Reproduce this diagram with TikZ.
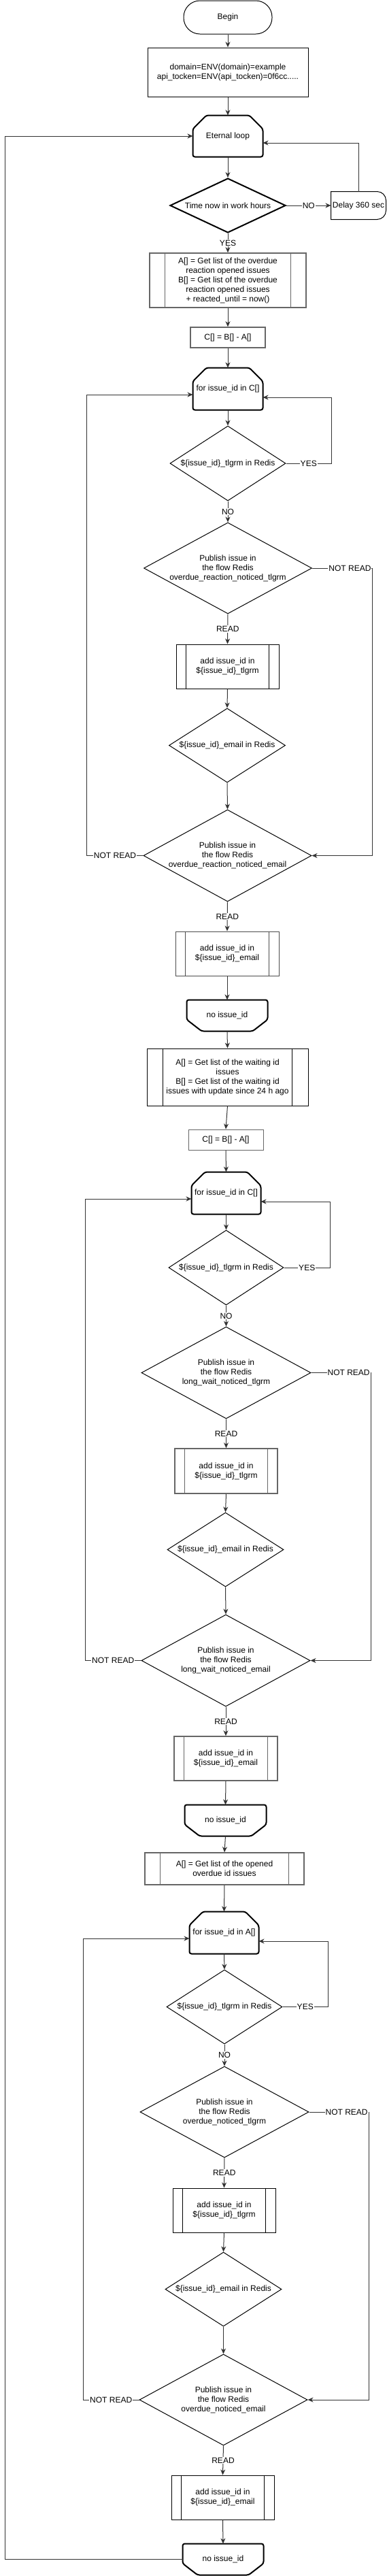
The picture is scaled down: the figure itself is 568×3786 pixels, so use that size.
\documentclass[tikz,border=0pt]{standalone}
\usepackage{fontspec}
\setmainfont{Liberation Sans}
\usetikzlibrary{shapes.geometric,arrows.meta,calc}
\newcommand\drawLoopTop[1]{\draw[loopline] ([xshift=20pt]#1.north west) -- ([xshift=-20pt]#1.north east) -- ([yshift=-20pt]#1.north east) -- (#1.south east) -- (#1.south west) -- ([yshift=-20pt]#1.north west) -- cycle;}
\newcommand\drawLoopBot[1]{\draw[loopline] (#1.north west) -- (#1.north east) -- ([yshift=17pt]#1.south east) -- ([xshift=-22pt]#1.south east) -- ([xshift=22pt]#1.south west) -- ([yshift=17pt]#1.south west) -- cycle;}
\newcommand\drawBars[3][]{\draw[line width=1pt,#1] ([xshift=#3]#2.north west) -- ([xshift=#3]#2.south west) ([xshift=-#3]#2.north east) -- ([xshift=-#3]#2.south east);}
\begin{document}
\begin{tikzpicture}[x=1pt,y=-1pt,
  font=\fontsize{12}{14}\selectfont,
  nbase/.style={inner sep=0pt, align=center, line width=1pt},
  termbox/.style={nbase, draw, rectangle, rounded corners=24pt},
  procbox/.style={nbase, draw, rectangle},
  ppbox/.style={nbase, draw, rectangle},
  loopbox/.style={nbase, rectangle},
  decbox/.style={nbase, draw, diamond, aspect=1.6},
  loopline/.style={line width=2pt, rounded corners=3pt, line join=round},
  conn/.style={line width=1pt, draw=black!80, -{Stealth[length=8pt,width=7pt,inset=2.5pt]}},
  elabel/.style={fill=white, inner sep=1pt},
]
\fill[white] (0,0) rectangle (568,3786);
\useasboundingbox (0,0) rectangle (568,3786);

% routing coordinates
\coordinate (xO) at (7,0);
\coordinate (xY1) at (487,0);
\coordinate (xR1) at (547,0);
\coordinate (xL1) at (127.5,0);
\coordinate (xY2) at (485,0);
\coordinate (xR2) at (545,0);
\coordinate (xL2) at (125,0);
\coordinate (xY3) at (482,0);
\coordinate (xR3) at (542,0);
\coordinate (xL3) at (122,0);

% ---------- section 1 ----------
\node[termbox, minimum width=130pt, minimum height=49pt] (begin) at (335,25.5) {Begin};
\node[procbox, minimum width=236pt, minimum height=72pt] (domain) at (335,106) {domain=ENV(domain)=example\\api\_tocken=ENV(api\_tocken)=0f6cc.....};
\node[loopbox, minimum width=102pt, minimum height=60pt] (eloop) at (335,200) {Eternal loop};
\node[decbox, line width=2pt, minimum width=170pt, minimum height=80pt, aspect=2.1] (time) at (335,302) {Time now in work hours};
\node[nbase, rectangle, minimum width=80pt, minimum height=40pt] (delay) at (527,302) {Delay 360 sec};
\node[ppbox, draw=black!60, line width=1.5pt, minimum width=230pt, minimum height=80pt] (p1) at (335,412) {A[] = Get list of the overdue\\reaction opened issues\\B[] = Get list of the overdue\\reaction opened issues\\+ reacted\_until = now()};
\node[procbox, draw=black!60, line width=1.5pt, minimum width=110pt, minimum height=30pt] (c1) at (335,496) {C[] = B[] - A[]};
\node[loopbox, minimum width=102pt, minimum height=61pt] (for1) at (335,571.5) {for issue\_id in C[]};
\node[decbox, minimum width=170pt, minimum height=110pt] (d1) at (335,681) {\$\{issue\_id\}\_tlgrm in Redis};
\node[decbox, minimum width=247pt, minimum height=134pt, aspect=1.84] (p2) at (335,835) {Publish issue in\\the flow Redis\\overdue\_reaction\_noticed\_tlgrm};
\node[ppbox, minimum width=151pt, minimum height=65pt] (a1) at (334.5,979.5) {add issue\_id in\\\$\{issue\_id\}\_tlgrm};
\node[decbox, minimum width=171pt, minimum height=109pt] (e1) at (334,1095.5) {\$\{issue\_id\}\_email in Redis};
\node[decbox, minimum width=247pt, minimum height=135pt, aspect=1.84] (p3) at (334.5,1257.5) {Publish issue in\\the flow Redis\\overdue\_reaction\_noticed\_email};
\node[ppbox, draw=black!70, minimum width=152pt, minimum height=65pt] (a2) at (334,1401.5) {add issue\_id in\\\$\{issue\_id\}\_email};
\node[loopbox, minimum width=118pt, minimum height=45pt] (n1) at (334,1492.5) {no issue\_id};

% ---------- section 2 ----------
\node[ppbox, minimum width=237pt, minimum height=84pt] (q1) at (334.5,1583) {A[] = Get list of the waiting id\\issues\\B[] = Get list of the waiting id\\issues with update since 24 h ago};
\node[procbox, draw=black!60, minimum width=110pt, minimum height=30pt] (c2) at (332,1675) {C[] = B[] - A[]};
\node[loopbox, minimum width=101pt, minimum height=61pt] (for2) at (332.5,1753.5) {for issue\_id in C[]};
\node[decbox, minimum width=169pt, minimum height=110pt] (d2) at (332.5,1863) {\$\{issue\_id\}\_tlgrm in Redis};
\node[decbox, minimum width=249pt, minimum height=135pt, aspect=1.84] (p4) at (332.5,2017.5) {Publish issue in\\the flow Redis\\long\_wait\_noticed\_tlgrm};
\node[ppbox, draw=black!60, line width=1.5pt, minimum width=151pt, minimum height=66pt] (a3) at (332.5,2162) {add issue\_id in\\\$\{issue\_id\}\_tlgrm};
\node[decbox, minimum width=171pt, minimum height=109pt] (e2) at (331.5,2277.5) {\$\{issue\_id\}\_email in Redis};
\node[decbox, minimum width=248pt, minimum height=135pt, aspect=1.84] (p5) at (332,2440.5) {Publish issue in\\the flow Redis\\long\_wait\_noticed\_email};
\node[ppbox, draw=black!60, line width=1.5pt, minimum width=152pt, minimum height=65pt] (a4) at (332,2584.5) {add issue\_id in\\\$\{issue\_id\}\_email};
\node[loopbox, minimum width=119pt, minimum height=45pt] (n2) at (331.5,2675.5) {no issue\_id};

% ---------- section 3 ----------
\node[ppbox, draw=black!60, line width=1.5pt, minimum width=234pt, minimum height=47pt] (q2) at (330,2746.5) {A[] = Get list of the opened\\overdue id issues};
\node[loopbox, minimum width=101pt, minimum height=61pt] (for3) at (329.5,2840.5) {for issue\_id in A[]};
\node[decbox, minimum width=170pt, minimum height=109pt] (d3) at (330,2949.5) {\$\{issue\_id\}\_tlgrm in Redis};
\node[decbox, minimum width=248pt, minimum height=134pt, aspect=1.84] (p6) at (330,3104) {Publish issue in\\the flow Redis\\overdue\_noticed\_tlgrm};
\node[ppbox, minimum width=151pt, minimum height=65pt] (a5) at (329.5,3248.5) {add issue\_id in\\\$\{issue\_id\}\_tlgrm};
\node[decbox, minimum width=171pt, minimum height=109pt] (e3) at (328.5,3364.5) {\$\{issue\_id\}\_email in Redis};
\node[decbox, minimum width=247pt, minimum height=134pt, aspect=1.84] (p7) at (328.5,3527) {Publish issue in\\the flow Redis\\overdue\_noticed\_email};
\node[ppbox, minimum width=151pt, minimum height=65pt] (a6) at (327.5,3670.5) {add issue\_id in\\\$\{issue\_id\}\_email};
\node[loopbox, minimum width=118pt, minimum height=45pt] (n3) at (328,3761.5) {no issue\_id};

% ---------- special outlines ----------
\drawLoopTop{eloop}
\drawLoopTop{for1}
\drawLoopTop{for2}
\drawLoopTop{for3}
\drawLoopBot{n1}
\drawLoopBot{n2}
\drawLoopBot{n3}
\draw[line width=1pt] (delay.north west) -- ([xshift=-13pt]delay.north east) arc[start angle=90,end angle=0,radius=13pt] -- ([yshift=13pt]delay.south east) arc[start angle=0,end angle=-90,radius=13pt] -- (delay.south west) -- cycle;
\drawBars[black!60]{p1}{23pt}
\drawBars{a1}{15pt}
\drawBars[black!70]{a2}{15pt}
\drawBars{q1}{24pt}
\drawBars[black!60]{a3}{15pt}
\drawBars[black!60]{a4}{15pt}
\drawBars[black!60]{q2}{23pt}
\drawBars{a5}{15pt}
\drawBars{a6}{15pt}

% ---------- connectors: section 1 ----------
\draw[conn] (begin.south) -- (domain.north);
\draw[conn] (domain.south) -- (eloop.north);
\draw[conn] (eloop.south) -- (time.north);
\draw[conn] (time.east) -- node[elabel]{NO} (delay.west);
\draw[conn] (delay.north) |- ([yshift=-10pt]eloop.east);
\draw[conn] (time.south) -- node[elabel]{YES} (p1.north);
\draw[conn] (p1.south) -- (c1.north);
\draw[conn] (c1.south) -- (for1.north);
\draw[conn] (for1.south) -- (d1.north);
\draw[conn] (d1.east) -- node[elabel]{YES} (d1.east -| xY1) |- ([yshift=-12.5pt]for1.east);
\draw[conn] (d1.south) -- node[elabel]{NO} (p2.north);
\draw[conn] (p2.east) -- node[elabel,pos=0.63]{NOT READ} (p2.east -| xR1) |- (p3.east);
\draw[conn] (p2.south) -- node[elabel]{READ} (a1.north);
\draw[conn] (a1.south) -- (e1.north);
\draw[conn] (e1.south) -- (p3.north);
\draw[conn] (p3.west) -- node[elabel]{NOT READ} (p3.west -| xL1) |- ([yshift=-8.5pt]for1.west);
\draw[conn] (p3.south) -- node[elabel]{READ} (a2.north);
\draw[conn] (a2.south) -- (n1.north);
\draw[conn] (n1.south) -- (q1.north);

% ---------- connectors: section 2 ----------
\draw[conn] (q1.south) -- (c2.north);
\draw[conn] (c2.south) -- (for2.north);
\draw[conn] (for2.south) -- (d2.north);
\draw[conn] (d2.east) -- node[elabel]{YES} (d2.east -| xY2) |- ([yshift=-12.5pt]for2.east);
\draw[conn] (d2.south) -- node[elabel]{NO} (p4.north);
\draw[conn] (p4.east) -- node[elabel,pos=0.63]{NOT READ} (p4.east -| xR2) |- (p5.east);
\draw[conn] (p4.south) -- node[elabel]{READ} (a3.north);
\draw[conn] (a3.south) -- (e2.north);
\draw[conn] (e2.south) -- (p5.north);
\draw[conn] (p5.west) -- node[elabel]{NOT READ} (p5.west -| xL2) |- ([yshift=-8.5pt]for2.west);
\draw[conn] (p5.south) -- node[elabel]{READ} (a4.north);
\draw[conn] (a4.south) -- (n2.north);
\draw[conn] (n2.south) -- (q2.north);

% ---------- connectors: section 3 ----------
\draw[conn] (q2.south) -- (for3.north);
\draw[conn] (for3.south) -- (d3.north);
\draw[conn] (d3.east) -- node[elabel]{YES} (d3.east -| xY3) |- ([yshift=-12.5pt]for3.east);
\draw[conn] (d3.south) -- node[elabel]{NO} (p6.north);
\draw[conn] (p6.east) -- node[elabel,pos=0.63]{NOT READ} (p6.east -| xR3) |- (p7.east);
\draw[conn] (p6.south) -- node[elabel]{READ} (a5.north);
\draw[conn] (a5.south) -- (e3.north);
\draw[conn] (e3.south) -- (p7.north);
\draw[conn] (p7.west) -- node[elabel]{NOT READ} (p7.west -| xL3) |- ([yshift=-8.5pt]for3.west);
\draw[conn] (p7.south) -- node[elabel]{READ} (a6.north);
\draw[conn] (a6.south) -- (n3.north);

% ---------- outer loop ----------
\draw[conn] (n3.west) -- (n3.west -| xO) |- (eloop.west);
\end{tikzpicture}
\end{document}
